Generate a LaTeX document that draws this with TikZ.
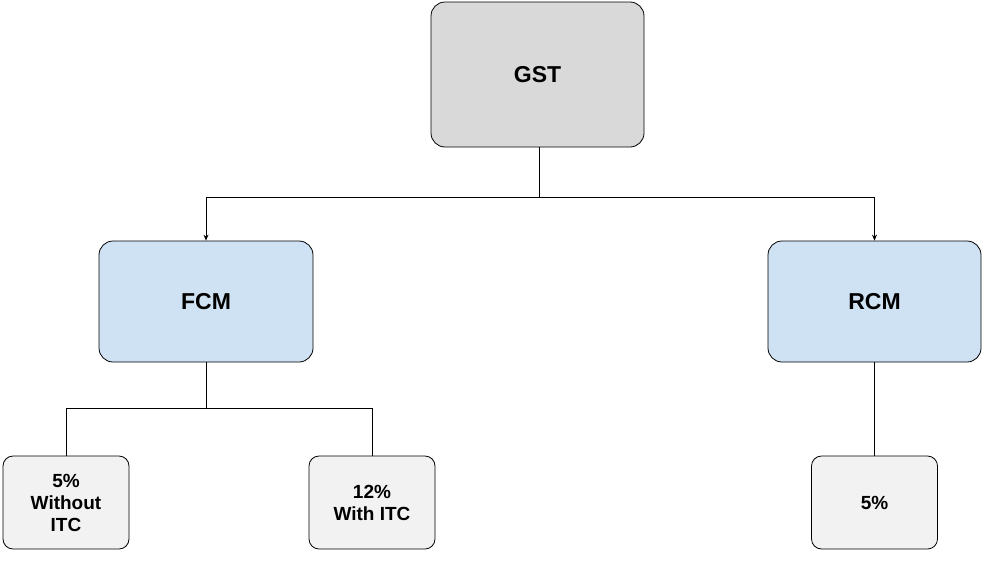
\documentclass[tikz,border=0pt]{standalone}
\usepackage{fontspec}
\setmainfont{Liberation Sans}
\usetikzlibrary{arrows.meta}
\begin{document}
\begin{tikzpicture}[x=1pt,y=-1pt,
  box/.style={draw=black,line width=0.8pt,rounded corners=14pt,font=\bfseries,align=center,inner sep=0pt},
  big/.style={box,font=\bfseries\fontsize{23}{27}\selectfont},
  small/.style={box,rounded corners=10pt,fill=gray!10,minimum width=126pt,minimum height=93pt,font=\bfseries\fontsize{19}{22}\selectfont},
  conn/.style={line width=0.8pt},
  arr/.style={conn,-{Stealth[length=6pt,width=5pt]}}]
\useasboundingbox (0,0) rectangle (984,581);
\node[big,fill=gray!30,minimum width=213pt,minimum height=145pt] (gst) at (537.5,74.5) {GST};
\node[big,fill={rgb,255:red,207;green,226;blue,243},minimum width=214pt,minimum height=121pt] (fcm) at (206,301.5) {FCM};
\node[big,fill={rgb,255:red,207;green,226;blue,243},minimum width=213pt,minimum height=121pt] (rcm) at (874.5,301.5) {RCM};
\node[small] (a) at (66,502.5) {5\%\\Without\\ITC};
\node[small] (b) at (372,502.5) {12\%\\With ITC};
\node[small] (c) at (874.5,502.5) {5\%};
\coordinate (j1) at (539,197);
\coordinate (j2) at (206,408);
\draw[conn] (gst.south -| j1) -- (j1);
\draw[arr] (j1) -| (fcm.north);
\draw[arr] (j1) -| (rcm.north);
\draw[conn] (fcm.south) -- (j2);
\draw[conn] (j2) -| (a.north);
\draw[conn] (j2) -| (b.north);
\draw[conn] (rcm.south) -- (c.north);
\end{tikzpicture}
\end{document}
